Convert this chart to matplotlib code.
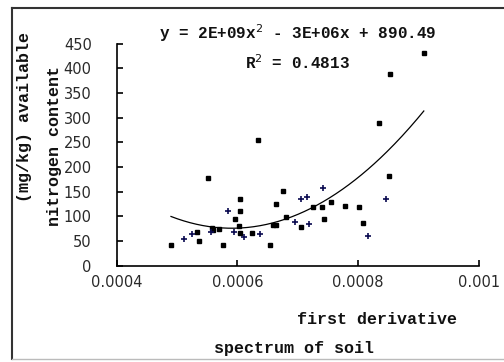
import numpy as np
import matplotlib
matplotlib.use("Agg")
import matplotlib.pyplot as plt
from matplotlib.lines import Line2D

# ---- data ----
x_sq = [0.000490, 0.000533, 0.000536, 0.000552, 0.000558, 0.000560, 0.000569,
        0.000576, 0.000596, 0.000602, 0.000604, 0.000605, 0.000605, 0.000625,
        0.000635, 0.000654, 0.000659, 0.000664, 0.000664, 0.000676, 0.000681,
        0.000706, 0.000726, 0.000740, 0.000744, 0.000756, 0.000778, 0.000802,
        0.000809, 0.000835, 0.000852, 0.000853, 0.000909]
y_sq = [42, 69, 50, 177, 77, 72, 74,
        42, 95, 81, 136, 111, 66, 66,
        254, 42, 82, 126, 82, 151, 98,
        79, 118, 118, 95, 130, 122, 120,
        87, 290, 182, 389, 431]
x_plus = [0.000512, 0.000525, 0.000557, 0.000584, 0.000594, 0.000611, 0.000638,
          0.000696, 0.000705, 0.000715, 0.000719, 0.000742, 0.000817, 0.000847]
y_plus = [55, 64, 68, 111, 68, 59, 64,
          88, 136, 140, 85, 157, 60, 136]

xticks = [0.0004, 0.0006, 0.0008, 0.001]
xtick_labels = ["0.0004", "0.0006", "0.0008", "0.001"]
yticks = [0, 50, 100, 150, 200, 250, 300, 350, 400, 450]
eq_text = "y = 2E+09x$^{2}$ - 3E+06x + 890.49"
r2_text = "R$^{2}$ = 0.4813"

W, H = 504, 362
fig = plt.figure(figsize=(W / 100, H / 100), dpi=100)
fig.patch.set_facecolor("white")

ax = fig.add_axes([116.7 / W, 1 - 265.7 / H, (478.7 - 116.7) / W, (265.7 - 43.7) / H])
ax.set_facecolor("white")

xa = np.array(x_sq + x_plus)
ya = np.array(y_sq + y_plus)
coef = np.polyfit(xa, ya, 2)
xs = np.linspace(xa.min(), xa.max(), 200)
ax.plot(xs, np.polyval(coef, xs), color="black", lw=0.9)

ax.plot(x_sq, y_sq, linestyle="none", marker="s", ms=2.2, color="black")
ax.plot(x_plus, y_plus, linestyle="none", marker="+", ms=4.5, mew=1.2, color="#0a0a50")

ax.set_xlim(0.0004, 0.001)
ax.set_ylim(0, 450)
ax.set_xticks(xticks)
ax.set_xticklabels(xtick_labels)
ax.set_yticks(yticks)
for s in ["top", "right"]:
    ax.spines[s].set_visible(False)
for s in ["left", "bottom"]:
    ax.spines[s].set_linewidth(1.2)
    ax.spines[s].set_color("black")
ax.tick_params(direction="in", length=4, width=1.2, colors="black", labelsize=10.5,
               labelcolor="#2a2a2a")
ax.tick_params(axis="x", pad=7)
ax.tick_params(axis="y", pad=18)
for lab in ax.get_xticklabels() + ax.get_yticklabels():
    lab.set_family("DejaVu Sans")

mono = dict(family="Liberation Mono", fontweight="bold", fontsize=11.5, color="#111111")
mono_lab = dict(family="Liberation Mono", fontweight="bold", fontsize=12, color="#111111")

fig.text(298 / W, 1 - 33 / H, eq_text, ha="center", va="center", **mono)
fig.text(297 / W, 1 - 63 / H, r2_text, ha="center", va="center", **mono)

fig.text(25 / W, 1 - 117 / H, "(mg/kg) available", rotation=90, ha="center", va="center", **mono_lab)
fig.text(55 / W, 1 - 146 / H, "nitrogen content", rotation=90, ha="center", va="center", **mono_lab)

fig.text(377 / W, 1 - 320 / H, "first derivative", ha="center", va="center", **mono_lab)
fig.text(294 / W, 1 - 348 / H, "spectrum of soil", ha="center", va="center", **mono_lab)

# chart area frame
fig.add_artist(Line2D([12 / W, 12 / W], [1 - 8 / H, 1 - 359 / H], color="#333333", lw=1.5))
fig.add_artist(Line2D([12 / W, 1.0], [1 - 8 / H, 1 - 8 / H], color="#333333", lw=1.5))
fig.add_artist(Line2D([12 / W, 1.0], [1 - 359 / H, 1 - 359 / H], color="#bbbbbb", lw=1.0))

fig.savefig("out.png", dpi=100, facecolor="white")
